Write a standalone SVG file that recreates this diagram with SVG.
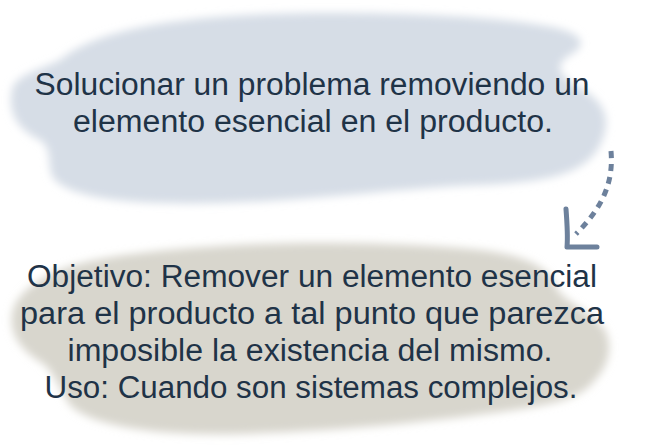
<svg xmlns="http://www.w3.org/2000/svg" width="655" height="446" viewBox="0 0 655 446">
<style>
.t{font-family:"Liberation Sans","Noto Sans",sans-serif;font-size:31px;fill:#1f3347;text-anchor:middle}
.c{fill:none;stroke:#6d819c;stroke-width:5}
</style>
<defs>
<filter id="blur" x="-10%" y="-10%" width="120%" height="120%"><feGaussianBlur stdDeviation="4"/></filter>
</defs>
<rect width="655" height="446" fill="#ffffff"/>
<g id="node1">
<path filter="url(#blur)" fill="#d6dde6" d="M 60 60 C 90 35, 150 20, 250 15 C 350 10, 480 15, 540 25 C 575 30, 590 40, 575 52 C 555 62, 555 72, 575 85 C 600 98, 615 115, 600 145 C 585 175, 545 182, 480 185 C 400 188, 320 200, 220 203 C 140 205, 75 200, 55 180 C 45 168, 55 150, 40 140 C 15 128, 8 110, 12 90 C 15 75, 40 70, 60 60 Z"/>
<text class="t" x="312" y="95" textLength="555" lengthAdjust="spacingAndGlyphs">Solucionar un problema removiendo un</text>
<text class="t" x="313" y="132" textLength="480" lengthAdjust="spacingAndGlyphs">elemento esencial en el producto.</text>
</g>
<g id="node2">
<path filter="url(#blur)" fill="#d8d6cd" d="M 40 280 C 70 260, 130 252, 220 246 C 320 240, 420 244, 480 250 C 530 256, 550 270, 555 285 C 560 300, 590 310, 605 330 C 615 350, 605 370, 595 380 C 580 400, 550 405, 500 412 C 440 420, 360 430, 240 434 C 150 436, 90 425, 70 405 C 60 390, 55 375, 45 365 C 20 350, 10 335, 12 315 C 14 300, 25 290, 40 280 Z"/>
<text class="t" x="312" y="287" textLength="570" lengthAdjust="spacingAndGlyphs">Objetivo: Remover un elemento esencial</text>
<text class="t" x="312" y="324" textLength="584" lengthAdjust="spacingAndGlyphs">para el producto a tal punto que parezca</text>
<text class="t" x="310" y="361" textLength="485" lengthAdjust="spacingAndGlyphs">imposible la existencia del mismo.</text>
<text class="t" x="311" y="398" textLength="533" lengthAdjust="spacingAndGlyphs">Uso: Cuando son sistemas complejos.</text>
</g>
<g id="connectors">
<path class="c" stroke-dasharray="7,6" d="M 611 151 C 614 185, 600 210, 576 234"/>
<path class="c" stroke-linecap="round" stroke-linejoin="round" d="M 566 209 C 567 222, 568 236, 567 247 L 597 247"/>
</g>
</svg>
